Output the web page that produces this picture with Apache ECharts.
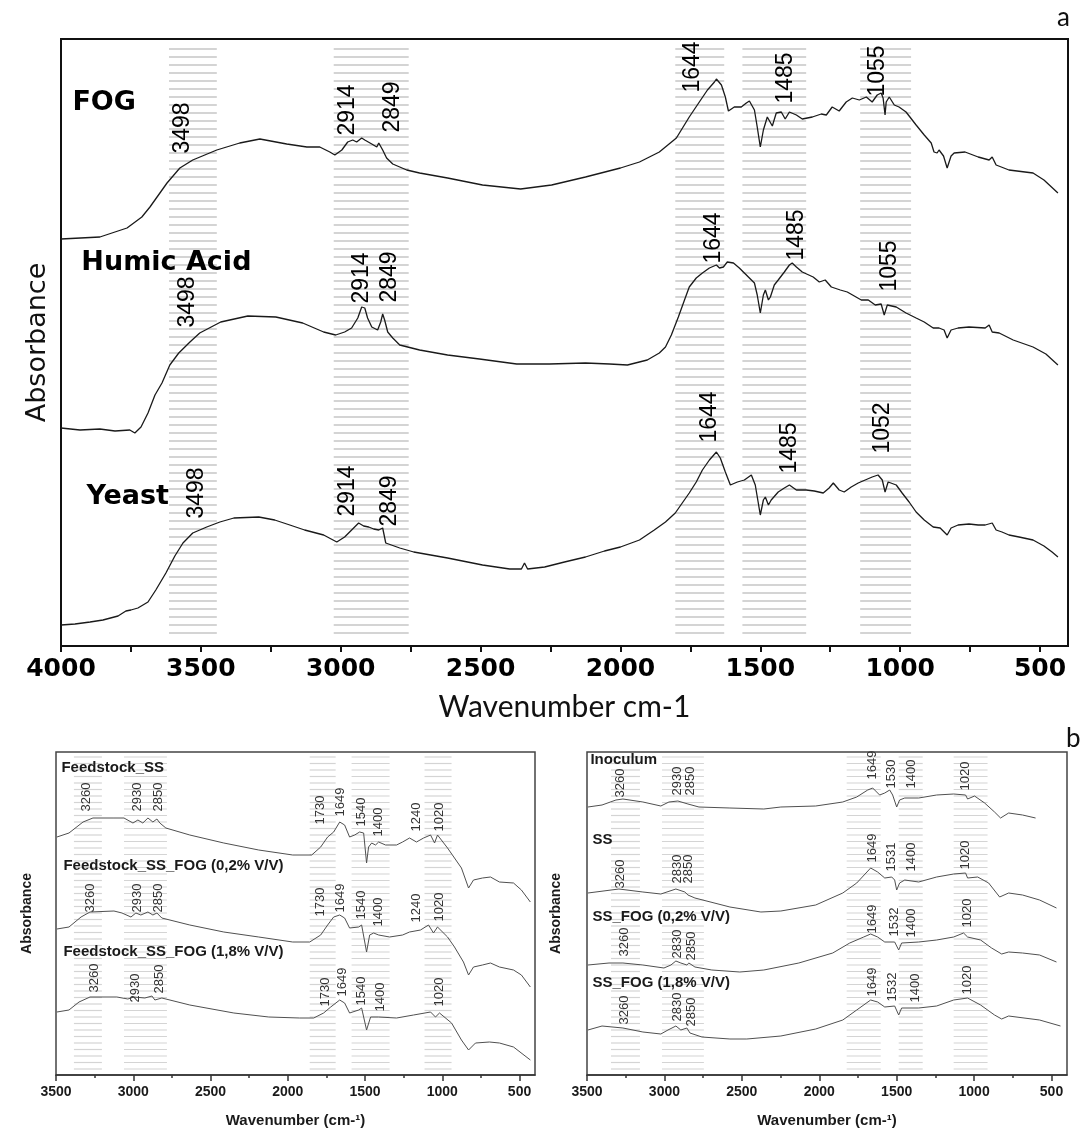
<!DOCTYPE html>
<html>
<head>
<meta charset="utf-8">
<title>FTIR spectra</title>
<script src="https://cdn.jsdelivr.net/npm/echarts@6/dist/echarts.min.js"></script>
<style>
  html, body { margin: 0; padding: 0; background: #fff; }
  #chart { width: 1081px; height: 1131px; }
</style>
</head>
<body>
<div id="chart"></div>
<script>
// ===== Panel a: FTIR spectra, [wavenumber cm-1, absorbance (offset, a.u.)] =====
const fogSpectrum = [[4000,4.07],[3861,4.09],[3764,4.18],[3711,4.29],[3682,4.39],[3621,4.63],[3575,4.78],[3529,4.86],[3443,4.96],[3361,5.03],[3289,5.07],[3193,5.02],[3121,4.99],[3075,4.99],[3039,4.94],[3021,4.91],[2996,4.96],[2975,5.04],[2957,5.06],[2943,5.04],[2925,5.08],[2914,5.06],[2889,5.02],[2871,4.99],[2864,5.03],[2857,5.02],[2850,4.96],[2836,4.88],[2814,4.82],[2764,4.76],[2718,4.73],[2618,4.68],[2493,4.61],[2357,4.57],[2246,4.61],[2125,4.69],[2000,4.78],[1932,4.84],[1861,4.94],[1800,5.08],[1754,5.29],[1718,5.44],[1689,5.56],[1664,5.64],[1657,5.67],[1639,5.61],[1625,5.49],[1614,5.35],[1593,5.39],[1568,5.39],[1550,5.43],[1539,5.45],[1521,5.36],[1511,5.19],[1500,4.99],[1489,5.16],[1475,5.29],[1457,5.20],[1443,5.33],[1425,5.34],[1411,5.27],[1396,5.34],[1371,5.31],[1350,5.27],[1314,5.29],[1282,5.32],[1264,5.31],[1243,5.39],[1218,5.35],[1193,5.44],[1171,5.48],[1146,5.46],[1121,5.49],[1100,5.44],[1082,5.51],[1068,5.53],[1061,5.48],[1054,5.31],[1050,5.44],[1039,5.49],[1021,5.41],[1004,5.39],[979,5.34],[943,5.21],[914,5.11],[889,5.03],[879,4.94],[868,4.93],[861,4.96],[845,4.90],[832,4.78],[818,4.90],[807,4.93],[768,4.94],[721,4.89],[682,4.86],[671,4.89],[657,4.81],[611,4.76],[525,4.73],[486,4.66],[436,4.53]];

const humicSpectrum = [[4000,2.18],[3932,2.16],[3861,2.17],[3807,2.15],[3754,2.16],[3736,2.13],[3714,2.19],[3689,2.33],[3664,2.51],[3639,2.63],[3611,2.81],[3579,2.93],[3539,3.04],[3504,3.13],[3429,3.24],[3332,3.30],[3232,3.29],[3136,3.23],[3061,3.14],[3018,3.11],[2986,3.14],[2961,3.18],[2939,3.28],[2925,3.39],[2914,3.38],[2904,3.28],[2889,3.19],[2868,3.16],[2857,3.24],[2850,3.32],[2843,3.26],[2832,3.14],[2814,3.08],[2789,3.01],[2718,2.96],[2618,2.91],[2504,2.87],[2371,2.82],[2254,2.82],[2125,2.83],[2039,2.82],[1975,2.81],[1904,2.86],[1861,2.93],[1839,2.99],[1818,3.11],[1793,3.29],[1771,3.46],[1754,3.59],[1729,3.68],[1707,3.73],[1682,3.78],[1657,3.81],[1646,3.78],[1632,3.79],[1618,3.84],[1596,3.83],[1575,3.78],[1557,3.73],[1539,3.68],[1521,3.63],[1511,3.51],[1500,3.33],[1489,3.51],[1482,3.56],[1471,3.46],[1464,3.49],[1450,3.61],[1436,3.66],[1414,3.74],[1396,3.81],[1386,3.83],[1371,3.79],[1350,3.74],[1311,3.69],[1289,3.64],[1268,3.66],[1246,3.59],[1214,3.56],[1189,3.54],[1164,3.50],[1139,3.46],[1114,3.46],[1089,3.41],[1068,3.42],[1057,3.31],[1046,3.41],[1014,3.39],[979,3.33],[943,3.28],[914,3.24],[882,3.18],[861,3.18],[843,3.16],[832,3.08],[818,3.16],[793,3.18],[754,3.19],[696,3.18],[682,3.21],[671,3.14],[646,3.13],[596,3.06],[525,2.99],[479,2.92],[436,2.81]];

const yeastSpectrum = [[4000,0.21],[3950,0.22],[3896,0.24],[3850,0.26],[3796,0.30],[3768,0.35],[3750,0.36],[3725,0.38],[3689,0.44],[3661,0.56],[3625,0.73],[3593,0.90],[3564,1.03],[3529,1.13],[3479,1.19],[3432,1.24],[3382,1.28],[3293,1.29],[3236,1.26],[3182,1.21],[3129,1.16],[3061,1.11],[3014,1.04],[2986,1.09],[2961,1.16],[2936,1.23],[2918,1.20],[2900,1.19],[2882,1.17],[2864,1.16],[2850,1.18],[2839,1.03],[2789,0.98],[2739,0.94],[2618,0.88],[2493,0.81],[2396,0.77],[2354,0.77],[2343,0.83],[2332,0.77],[2271,0.79],[2200,0.84],[2125,0.89],[2057,0.95],[2000,0.99],[1932,1.06],[1879,1.16],[1839,1.24],[1804,1.33],[1779,1.43],[1754,1.53],[1729,1.64],[1707,1.76],[1682,1.86],[1657,1.94],[1643,1.88],[1625,1.74],[1607,1.61],[1582,1.64],[1557,1.66],[1532,1.71],[1518,1.61],[1500,1.31],[1489,1.46],[1482,1.49],[1471,1.41],[1461,1.46],[1436,1.54],[1414,1.58],[1396,1.61],[1371,1.56],[1336,1.56],[1307,1.55],[1275,1.53],[1254,1.58],[1239,1.63],[1218,1.56],[1200,1.54],[1175,1.59],[1150,1.63],[1125,1.66],[1100,1.69],[1079,1.71],[1064,1.66],[1054,1.54],[1043,1.64],[1036,1.66],[1014,1.61],[993,1.53],[968,1.44],[943,1.34],[914,1.26],[882,1.19],[857,1.18],[832,1.11],[818,1.18],[793,1.21],[754,1.22],[721,1.21],[696,1.21],[671,1.23],[657,1.16],[636,1.14],[611,1.11],[575,1.09],[525,1.06],[486,1.00],[457,0.94],[436,0.89]];

// band assignments in panel a: [upper wavenumber, lower wavenumber]
const bandsA = [[3614,3443],[3025,2757],[1804,1629],[1564,1336],[1143,961]];

// sample names and peak annotations: [wavenumber, absorbance, text]
const namesA = [[3961,5.43,'FOG'],[3929,3.83,'Humic Acid'],[3911,1.49,'Yeast']];
const peaksA = [
  [3564,5.18,'3498'],[2975,5.36,'2914'],[2814,5.39,'2849'],[1743,5.79,'1644'],[1411,5.68,'1485'],[1079,5.75,'1055'],
  [3546,3.44,'3498'],[2925,3.68,'2914'],[2825,3.69,'2849'],[1668,4.08,'1644'],[1371,4.11,'1485'],[1039,3.80,'1055'],
  [3514,1.53,'3498'],[2975,1.55,'2914'],[2825,1.45,'2849'],[1682,2.29,'1644'],[1396,1.98,'1485'],[1064,2.18,'1052']
];
const ticksA = [4000,3750,3500,3250,3000,2750,2500,2250,2000,1750,1500,1250,1000,750,500];
const labelsA = [4000,3500,3000,2500,2000,1500,1000,500];

// ===== Panel b (left): feedstock spectra =====
const feedSS = [[3494,2.38],[3416,2.42],[3325,2.53],[3261,2.57],[3125,2.57],[3060,2.57],[3002,2.52],[2970,2.55],[2938,2.52],[2905,2.57],[2873,2.53],[2847,2.56],[2828,2.52],[2789,2.47],[2634,2.40],[2414,2.32],[2188,2.25],[1968,2.20],[1845,2.20],[1787,2.28],[1742,2.38],[1703,2.43],[1664,2.53],[1632,2.50],[1600,2.38],[1567,2.40],[1535,2.43],[1509,2.42],[1490,2.12],[1477,2.28],[1457,2.32],[1432,2.30],[1412,2.33],[1367,2.30],[1296,2.30],[1257,2.33],[1212,2.37],[1167,2.33],[1121,2.37],[1076,2.40],[1050,2.32],[1031,2.40],[966,2.27],[921,2.17],[876,2.07],[830,1.87],[798,1.95],[740,1.97],[688,1.98],[630,1.93],[539,1.92],[488,1.85],[430,1.73]];

const feedSSFog02 = [[3494,1.46],[3416,1.48],[3338,1.58],[3280,1.63],[3125,1.64],[3073,1.62],[3015,1.58],[2983,1.62],[2951,1.60],[2905,1.63],[2873,1.60],[2847,1.62],[2815,1.57],[2634,1.50],[2414,1.43],[2188,1.38],[1968,1.33],[1858,1.33],[1787,1.40],[1742,1.50],[1703,1.58],[1664,1.60],[1632,1.57],[1600,1.47],[1541,1.48],[1522,1.50],[1490,1.23],[1470,1.40],[1444,1.42],[1412,1.40],[1341,1.38],[1257,1.40],[1212,1.43],[1141,1.45],[1089,1.50],[1057,1.42],[1031,1.48],[966,1.38],[921,1.28],[863,1.13],[830,1.00],[798,1.08],[740,1.10],[688,1.12],[630,1.08],[539,1.05],[488,1.00],[430,0.88]];

const feedSSFog18 = [[3494,0.63],[3416,0.65],[3351,0.73],[3280,0.78],[3106,0.78],[3035,0.76],[2996,0.78],[2925,0.77],[2879,0.79],[2860,0.75],[2815,0.77],[2634,0.70],[2349,0.62],[2123,0.58],[1923,0.57],[1832,0.57],[1768,0.62],[1722,0.68],[1664,0.75],[1632,0.72],[1600,0.62],[1541,0.65],[1522,0.67],[1490,0.45],[1464,0.58],[1412,0.58],[1296,0.57],[1186,0.60],[1076,0.63],[1044,0.58],[1018,0.62],[940,0.52],[876,0.35],[830,0.25],[785,0.32],[695,0.33],[630,0.32],[539,0.28],[430,0.15]];

const bandsB1 = [[3384,3203],[3060,2782],[1858,1690],[1587,1341],[1115,940]];
const namesB1 = [[3468,3.07,'Feedstock_SS'],[3455,2.09,'Feedstock_SS_FOG (0,2% V/V)'],[3455,1.23,'Feedstock_SS_FOG (1,8% V/V)']];
const peaksB1 = [
  [3300,2.78,'3260'],[2976,2.78,'2930'],[2834,2.78,'2850'],[1787,2.65,'1730'],[1658,2.73,'1649'],[1522,2.63,'1540'],[1412,2.53,'1400'],[1167,2.58,'1240'],[1018,2.58,'1020'],
  [3280,1.77,'3260'],[2976,1.77,'2930'],[2834,1.77,'2850'],[1787,1.73,'1730'],[1658,1.77,'1649'],[1522,1.70,'1540'],[1412,1.63,'1400'],[1167,1.67,'1240'],[1018,1.68,'1020'],
  [3254,0.97,'3260'],[2983,0.87,'2930'],[2828,0.96,'2850'],[1755,0.83,'1730'],[1645,0.93,'1649'],[1522,0.84,'1540'],[1399,0.78,'1400'],[1018,0.83,'1020']
];

// ===== Panel b (right): inoculum and sludge spectra =====
const inoculum = [[3494,2.68],[3403,2.70],[3313,2.75],[3268,2.76],[3139,2.73],[3023,2.69],[2971,2.73],[2913,2.74],[2848,2.71],[2777,2.68],[2577,2.67],[2358,2.66],[2248,2.68],[2023,2.69],[1848,2.73],[1758,2.78],[1687,2.85],[1655,2.87],[1610,2.80],[1577,2.82],[1545,2.85],[1526,2.80],[1500,2.68],[1481,2.75],[1448,2.77],[1358,2.77],[1242,2.80],[1132,2.81],[1055,2.80],[1042,2.76],[997,2.79],[932,2.72],[868,2.63],[829,2.57],[777,2.62],[687,2.60],[603,2.57]];

const sludgeSS = [[3494,1.82],[3294,1.86],[3139,1.83],[3023,1.81],[2926,1.86],[2868,1.83],[2848,1.80],[2803,1.77],[2577,1.68],[2377,1.63],[2248,1.64],[2023,1.70],[1848,1.82],[1758,1.92],[1668,2.07],[1623,2.03],[1577,1.97],[1532,1.98],[1513,1.95],[1500,1.85],[1481,1.92],[1448,1.95],[1358,1.93],[1242,1.98],[1132,2.01],[1055,2.02],[1042,1.97],[977,1.98],[906,1.92],[835,1.78],[777,1.82],[687,1.80],[577,1.75],[468,1.67]];

const sludgeFog02 = [[3494,1.10],[3358,1.12],[3268,1.12],[3139,1.10],[3003,1.07],[2958,1.10],[2926,1.14],[2894,1.12],[2855,1.10],[2842,1.12],[2803,1.08],[2694,1.05],[2513,1.03],[2358,1.05],[2132,1.12],[1913,1.22],[1803,1.32],[1713,1.38],[1668,1.41],[1623,1.38],[1577,1.33],[1513,1.33],[1487,1.25],[1468,1.32],[1358,1.33],[1242,1.35],[1132,1.38],[1068,1.42],[1042,1.38],[958,1.35],[887,1.27],[822,1.21],[777,1.23],[687,1.22],[577,1.20],[468,1.13]];

const sludgeFog18 = [[3494,0.45],[3403,0.49],[3268,0.47],[3139,0.43],[3023,0.41],[2977,0.45],[2926,0.49],[2894,0.45],[2855,0.47],[2835,0.42],[2758,0.38],[2577,0.36],[2468,0.36],[2248,0.39],[2023,0.46],[1848,0.55],[1758,0.65],[1668,0.75],[1623,0.73],[1577,0.68],[1513,0.69],[1487,0.60],[1468,0.67],[1358,0.67],[1242,0.69],[1132,0.75],[1042,0.77],[958,0.70],[868,0.60],[822,0.56],[777,0.59],[577,0.55],[442,0.49]];

const bandsB2 = [[3345,3158],[3016,2745],[1823,1603],[1487,1332],[1132,913]];
const namesB2 = [[3481,3.15,'Inoculum'],[3468,2.35,'SS'],[3468,1.58,'SS_FOG (0,2% V/V)'],[3468,0.92,'SS_FOG (1,8% V/V)']];
const peaksB2 = [
  [3281,2.92,'3260'],[2913,2.94,'2930'],[2829,2.94,'2850'],[1655,3.10,'1649'],[1532,3.01,'1530'],[1403,3.01,'1400'],[1055,2.99,'1020'],
  [3281,2.01,'3260'],[2913,2.06,'2830'],[2848,2.06,'2850'],[1655,2.27,'1649'],[1532,2.18,'1531'],[1403,2.18,'1400'],[1055,2.20,'1020'],
  [3261,1.33,'3260'],[2913,1.31,'2830'],[2823,1.29,'2850'],[1655,1.56,'1649'],[1513,1.53,'1532'],[1403,1.52,'1400'],[1042,1.62,'1020'],
  [3261,0.65,'3260'],[2913,0.68,'2830'],[2823,0.63,'2850'],[1655,0.93,'1649'],[1526,0.88,'1532'],[1377,0.87,'1400'],[1042,0.95,'1020']
];
const labelsB = [3500,3000,2500,2000,1500,1000,500];
const minorTicksB = [3250,2750,2250,1750,1250,750];

// ---------- drawing helpers ----------
const TOP_MAX = 6.07, BOT_MAX = 3.23;
const plain = v => String(v);

function hatch(xi, yi, bands, yTop, yBot, gap, color, width) {
  return {
    type: 'custom', xAxisIndex: xi, yAxisIndex: yi, silent: true, z: 1,
    encode: { x: [0, 1] },
    data: bands,
    renderItem: function (params, api) {
      const a = api.coord([api.value(0), yTop]);
      const b = api.coord([api.value(1), yBot]);
      const x0 = Math.min(a[0], b[0]), x1 = Math.max(a[0], b[0]);
      const kids = [];
      for (let y = a[1]; y <= b[1]; y += gap) {
        kids.push({ type: 'line', shape: { x1: x0, y1: y, x2: x1, y2: y },
                    style: { stroke: color, lineWidth: width } });
      }
      return { type: 'group', children: kids };
    }
  };
}

function spectrum(xi, yi, data, color, width) {
  return {
    type: 'line', xAxisIndex: xi, yAxisIndex: yi, data: data, showSymbol: false,
    silent: true, z: 3, lineStyle: { color: color, width: width }
  };
}

function texts(xi, yi, data, labelCfg) {
  return {
    type: 'scatter', xAxisIndex: xi, yAxisIndex: yi, data: data, symbolSize: 1,
    silent: true, z: 5, itemStyle: { color: 'transparent', opacity: 1 },
    label: Object.assign({ show: true, opacity: 1, formatter: p => p.data[2] }, labelCfg)
  };
}

const peakLabelA = { position: 'inside', rotate: 90, fontFamily: 'Liberation Sans', fontSize: 23, color: '#000' };
const peakLabelB = { position: 'inside', rotate: 90, fontFamily: 'Liberation Sans', fontSize: 13, color: '#333' };
const nameLabelA = { position: 'right', distance: 0, fontFamily: 'DejaVu Sans', fontWeight: 'bold', fontSize: 27, color: '#000' };
const nameLabelB = { position: 'right', distance: 0, fontFamily: 'Liberation Sans', fontWeight: 'bold', fontSize: 15, color: '#1a1a1a' };

function bottomMainAxis(gi) {
  return {
    gridIndex: gi, type: 'value', inverse: true, min: 400, max: 3500, position: 'bottom',
    axisLine: { show: true, lineStyle: { color: '#333', width: 1.5 } },
    axisTick: { show: true, customValues: labelsB, length: 6, lineStyle: { color: '#333', width: 1.5 } },
    axisLabel: { customValues: labelsB, formatter: plain, fontFamily: 'Liberation Sans', fontWeight: 'bold', fontSize: 14, color: '#1a1a1a', margin: 10 },
    splitLine: { show: false },
    name: 'Wavenumber (cm-\u00B9)', nameLocation: 'middle', nameGap: 38,
    nameTextStyle: { fontFamily: 'Liberation Sans', fontWeight: 'bold', fontSize: 15, color: '#1a1a1a' }
  };
}
function bottomMinorAxis(gi) {
  return {
    gridIndex: gi, type: 'value', inverse: true, min: 400, max: 3500, position: 'bottom', offset: 0,
    axisLine: { show: false }, axisLabel: { show: false }, splitLine: { show: false },
    axisTick: { show: true, customValues: minorTicksB, length: 3, lineStyle: { color: '#333', width: 1.5 } }
  };
}
function hiddenY(gi, max, gap, nameStyle) {
  return {
    gridIndex: gi, type: 'value', min: 0, max: max,
    axisLine: { show: false }, axisTick: { show: false }, axisLabel: { show: false }, splitLine: { show: false },
    name: 'Absorbance', nameLocation: 'middle', nameGap: gap, nameRotate: 90, nameTextStyle: nameStyle
  };
}

const option = {
  backgroundColor: '#fff',
  animation: false,
  grid: [
    { left: 61, top: 39, width: 1007, height: 607, show: true, borderColor: '#111', borderWidth: 2 },
    { left: 56, top: 752, width: 479, height: 323, show: true, borderColor: '#444', borderWidth: 1.5 },
    { left: 587, top: 752, width: 480, height: 323, show: true, borderColor: '#444', borderWidth: 1.5 }
  ],
  xAxis: [
    {
      gridIndex: 0, type: 'value', inverse: true, min: 400, max: 4000,
      axisLine: { show: true, lineStyle: { color: '#111', width: 2 } },
      axisTick: { show: true, customValues: ticksA, length: 6, lineStyle: { color: '#111', width: 2 } },
      axisLabel: { customValues: labelsA, formatter: plain, fontFamily: 'DejaVu Sans', fontWeight: 'bold', fontSize: 25, color: '#000', margin: 11 },
      splitLine: { show: false },
      name: 'Wavenumber cm-1', nameLocation: 'middle', nameGap: 46,
      nameTextStyle: { fontFamily: 'Lato', fontSize: 30, color: '#111' }
    },
    bottomMainAxis(1), bottomMinorAxis(1),
    bottomMainAxis(2), bottomMinorAxis(2)
  ],
  yAxis: [
    hiddenY(0, TOP_MAX, 10, { fontFamily: 'DejaVu Sans', fontSize: 27, color: '#111' }),
    hiddenY(1, BOT_MAX, 22, { fontFamily: 'Liberation Sans', fontWeight: 'bold', fontSize: 14, color: '#1a1a1a' }),
    hiddenY(2, BOT_MAX, 24, { fontFamily: 'Liberation Sans', fontWeight: 'bold', fontSize: 14, color: '#1a1a1a' })
  ],
  graphic: [
    { type: 'text', left: 1057, top: 5, style: { text: 'a', font: '26px Lato', fill: '#111' } },
    { type: 'text', left: 1066, top: 726, style: { text: 'b', font: '26px Lato', fill: '#111' } }
  ],
  series: [
    hatch(0, 0, bandsA, 5.97, 0.08, 8, '#c6c6c6', 1.6),
    spectrum(0, 0, fogSpectrum, '#1a1a1a', 1.3),
    spectrum(0, 0, humicSpectrum, '#1a1a1a', 1.3),
    spectrum(0, 0, yeastSpectrum, '#1a1a1a', 1.3),
    texts(0, 0, peaksA, peakLabelA),
    texts(0, 0, namesA, nameLabelA),

    hatch(1, 1, bandsB1, 3.18, 0.03, 6.5, '#d4d4d4', 1.2),
    spectrum(1, 1, feedSS, '#505050', 1),
    spectrum(1, 1, feedSSFog02, '#505050', 1),
    spectrum(1, 1, feedSSFog18, '#505050', 1),
    texts(1, 1, peaksB1, peakLabelB),
    texts(1, 1, namesB1, nameLabelB),

    hatch(3, 2, bandsB2, 3.18, 0.03, 6.5, '#d4d4d4', 1.2),
    spectrum(3, 2, inoculum, '#505050', 1),
    spectrum(3, 2, sludgeSS, '#505050', 1),
    spectrum(3, 2, sludgeFog02, '#505050', 1),
    spectrum(3, 2, sludgeFog18, '#505050', 1),
    texts(3, 2, peaksB2, peakLabelB),
    texts(3, 2, namesB2, nameLabelB)
  ]
};

const chart = echarts.init(document.getElementById('chart'), null, { renderer: 'canvas' });
chart.setOption(option);
</script>
</body>
</html>
